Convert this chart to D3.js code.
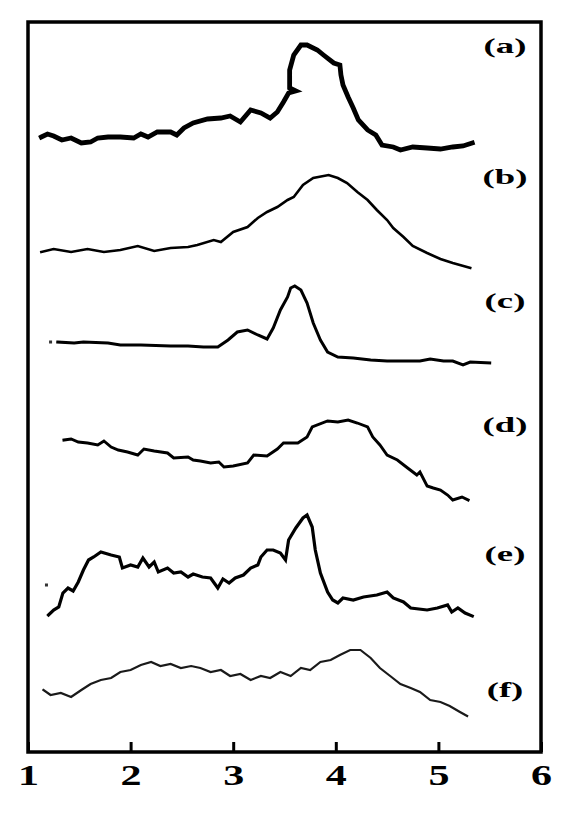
<!DOCTYPE html>
<html><head><meta charset="utf-8">
<script src="https://cdn.jsdelivr.net/npm/d3@7"></script>
<style>body{margin:0;background:#fff}</style>
</head><body>
<svg id="chart" width="575" height="816"></svg>
<script>
// ---- data (x: axis units 1..6, y: stacked relative intensity) ----
const xTicks = [1, 2, 3, 4, 5, 6];
const curveLabels = ["(a)", "(b)", "(c)", "(d)", "(e)", "(f)"];

const aX = [1.13,1.19,1.25,1.33,1.42,1.52,1.61,1.68,1.78,1.90,2.03,2.10,2.17,2.26,2.39,2.45,2.52,2.61,2.75,2.88,2.97,3.07,3.17,3.27,3.36,3.43,3.49,3.54,3.61,3.55,3.55,3.59,3.66,3.72,3.82,3.88,3.98,4.04,4.05,4.07,4.12,4.17,4.22,4.31,4.39,4.45,4.56,4.63,4.75,4.89,5.02,5.14,5.24,5.33];
const aY = [615,618,616,612,614,609,610,614,615,615,614,618,615,620,620,617,624,629,633,634,636,630,642,639,634,640,650,659,661,664,682,697,707,707,702,697,689,687,677,667,655,644,632,622,617,607,605,602,605,604,603,605,606,609];

const bX = [1.13,1.25,1.42,1.58,1.74,1.90,2.07,2.23,2.39,2.56,2.65,2.81,2.88,3.00,3.14,3.24,3.33,3.43,3.53,3.59,3.68,3.78,3.93,4.02,4.11,4.21,4.31,4.40,4.50,4.56,4.66,4.75,4.89,5.02,5.14,5.31];
const bY = [500,503,500,503,500,502,506,501,504,505,507,512,510,520,525,534,540,545,552,555,567,574,577,574,569,560,552,542,532,524,515,506,499,493,489,484];

const cX = [1.29,1.45,1.54,1.78,1.90,2.10,2.39,2.56,2.71,2.85,2.95,3.04,3.14,3.24,3.33,3.39,3.46,3.53,3.56,3.60,3.66,3.72,3.78,3.85,3.92,4.02,4.17,4.34,4.50,4.66,4.82,4.92,5.05,5.14,5.24,5.31,5.50];
const cY = [410,409,410,409,407,407,406,406,405,405,412,420,422,417,413,424,442,455,464,466,462,449,429,412,400,395,394,392,391,391,391,393,391,391,387,390,389];

const dX = [1.35,1.42,1.49,1.58,1.68,1.74,1.81,1.88,1.97,2.07,2.13,2.23,2.36,2.42,2.56,2.61,2.68,2.78,2.86,2.91,3.00,3.14,3.20,3.33,3.43,3.49,3.63,3.72,3.77,3.92,4.02,4.12,4.21,4.31,4.36,4.43,4.50,4.60,4.70,4.79,4.82,4.89,4.95,5.02,5.09,5.14,5.23,5.29];
const dY = [312,313,310,309,307,311,305,302,300,297,303,301,299,294,295,292,291,289,290,285,286,289,297,296,303,309,309,315,325,331,330,332,329,325,315,307,297,292,284,277,280,266,264,262,257,252,255,252];

const eX = [1.20,1.25,1.30,1.34,1.39,1.44,1.49,1.54,1.59,1.64,1.71,1.81,1.89,1.92,2.00,2.07,2.12,2.18,2.23,2.27,2.36,2.42,2.49,2.56,2.61,2.70,2.78,2.85,2.90,2.96,3.02,3.10,3.17,3.24,3.27,3.33,3.39,3.46,3.51,3.54,3.61,3.68,3.72,3.77,3.80,3.85,3.92,3.97,4.02,4.07,4.17,4.27,4.40,4.50,4.56,4.66,4.73,4.89,4.99,5.09,5.13,5.19,5.26,5.33];
const eY = [137,142,145,159,164,161,170,182,192,195,200,197,195,184,187,185,194,185,190,180,184,179,180,175,178,175,174,164,173,169,174,177,184,187,195,202,202,199,192,212,224,234,237,225,202,179,160,152,149,154,152,155,157,160,154,150,144,142,144,147,140,144,139,136];

const fX = [1.15,1.22,1.32,1.42,1.52,1.61,1.71,1.81,1.90,2.00,2.10,2.20,2.29,2.39,2.49,2.59,2.68,2.78,2.88,2.97,3.07,3.17,3.27,3.36,3.46,3.56,3.66,3.75,3.85,3.95,4.04,4.14,4.24,4.34,4.43,4.53,4.63,4.73,4.82,4.92,5.02,5.11,5.21,5.28];
const fY = [62,57,59,55,62,68,72,74,80,82,87,90,86,88,84,86,84,80,82,76,78,72,76,74,80,76,84,82,90,92,97,102,102,94,84,76,68,64,60,52,50,46,40,36];

// stray specks in the scan
const speckX = [1.22, 1.18];
const speckY = [410, 167];

// ---- drawing ----
const P = {left: 28, right: 541, top: 22, bottom: 752};
const svg = d3.select("#chart");

const x = d3.scaleLinear().domain([1, 6]).range([P.left, P.right]);
const y = d3.scaleLinear().domain([0, 730]).range([P.bottom, P.top]);

const series = [
  {xs: aX, ys: aY, w: 4.8, c: "#000"},
  {xs: bX, ys: bY, w: 2.6, c: "#000"},
  {xs: cX, ys: cY, w: 3.0, c: "#000"},
  {xs: dX, ys: dY, w: 2.9, c: "#000"},
  {xs: eX, ys: eY, w: 3.2, c: "#000"},
  {xs: fX, ys: fY, w: 2.2, c: "#1a1a1a"}
];

const line = d3.line().x(d => x(d[0])).y(d => y(d[1])).curve(d3.curveLinear);

svg.append("g").selectAll("path").data(series).join("path")
  .attr("d", s => line(s.xs.map((v, i) => [v, s.ys[i]])))
  .attr("fill", "none")
  .attr("stroke", s => s.c)
  .attr("stroke-width", s => s.w)
  .attr("stroke-linejoin", "miter")
  .attr("stroke-linecap", "square");

svg.append("g").selectAll("rect").data(speckX).join("rect")
  .attr("x", (d, i) => x(d) - 1.5).attr("y", (d, i) => y(speckY[i]) - 1.5)
  .attr("width", 3).attr("height", 3).attr("fill", "#333");

// frame
svg.append("rect")
  .attr("x", P.left).attr("y", P.top)
  .attr("width", P.right - P.left).attr("height", P.bottom - P.top)
  .attr("fill", "none").attr("stroke", "#000").attr("stroke-width", 3.5);

// x axis with inward ticks
const axis = d3.axisBottom(x).tickValues(xTicks).tickFormat(d3.format("d"))
  .tickSizeInner(-10).tickSizeOuter(0).tickPadding(12);
const gx = svg.append("g").attr("transform", `translate(0,${P.bottom})`).call(axis);
gx.select(".domain").remove();
gx.selectAll(".tick line").attr("stroke", "#000").attr("stroke-width", 3);
gx.selectAll(".tick text")
  .attr("fill", "#000")
  .style("font-family", "'Liberation Serif','DejaVu Serif',serif")
  .style("font-weight", "bold")
  .style("font-size", "29px")
  .attr("transform", "scale(1.45,1)");

// curve labels
const labelPos = [53, 184, 308, 432, 561, 697];
svg.append("g").selectAll("text").data(curveLabels).join("text")
  .attr("transform", (d, i) => `translate(505,${labelPos[i]}) scale(1.75,1)`)
  .attr("text-anchor", "middle")
  .style("font-family", "'Liberation Serif','DejaVu Serif',serif")
  .style("font-weight", "bold")
  .style("font-size", "21px")
  .attr("fill", "#000")
  .text(d => d);
</script>
</body></html>
